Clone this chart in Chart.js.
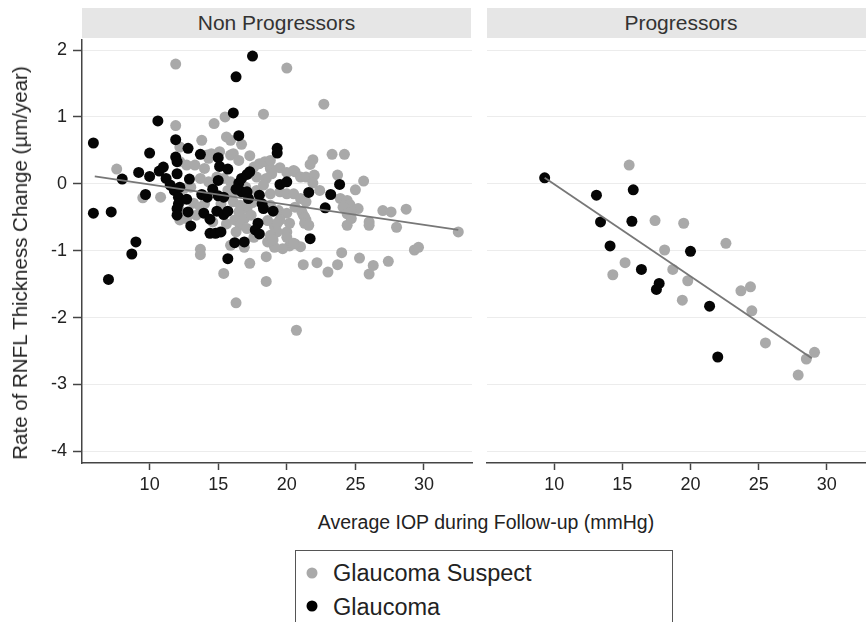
<!DOCTYPE html>
<html>
<head>
<meta charset="utf-8">
<script src="https://cdn.jsdelivr.net/npm/chart.js@4.4.1/dist/chart.umd.min.js"></script>
<style>
  html, body { margin: 0; padding: 0; width: 866px; height: 622px; overflow: hidden; background: #fff; }
  body { position: relative; font-family: 'Liberation Sans', Arial, sans-serif; color: #222; }
  .panel { position: absolute; top: 0; height: 500px; }
  .strip { position: absolute; top: 8px; height: 30px; line-height: 30px; background: #e6e6e6; text-align: center; font-size: 21px; color: #333; }
  .ytitle { position: absolute; left: 20px; top: 263px; transform: translate(-50%, -50%) rotate(-90deg); white-space: nowrap; font-size: 20.5px; }
  .xtitle { position: absolute; left: 486px; top: 522px; transform: translate(-50%, -50%); white-space: nowrap; font-size: 19.5px; }
  .legend { position: absolute; left: 295px; top: 550px; width: 376px; height: 100px; border: 1.5px solid #555; }
  .item { position: absolute; left: 37px; font-size: 23.5px; white-space: nowrap; transform: translateY(-50%); }
  .dot { position: absolute; width: 11px; height: 11px; border-radius: 50%; transform: translate(-50%, -50%); }
</style>
</head>
<body>

<div class="strip" style="left:82px; width:389px;">Non Progressors</div>
<div class="strip" style="left:487px; width:388px;">Progressors</div>

<div class="panel" style="left:0; width:480px;"><canvas id="chart-np" width="480" height="500"></canvas></div>
<div class="panel" style="left:480px; width:400px;"><canvas id="chart-p" width="400" height="500"></canvas></div>

<div class="ytitle">Rate of RNFL Thickness Change (µm/year)</div>
<div class="xtitle">Average IOP during Follow-up (mmHg)</div>

<div class="legend">
  <span class="dot" style="left:16px; top:22px; background:#a9a9a9;"></span>
  <span class="item" style="top:22px;">Glaucoma Suspect</span>
  <span class="dot" style="left:16px; top:55px; background:#000;"></span>
  <span class="item" style="top:56px;">Glaucoma</span>
</div>

<script>
// axes
const xTicks = [10, 15, 20, 25, 30];
const yTicks = [-4, -3, -2, -1, 0, 1, 2];
const xMin = 5.07, xMax = 33.5;
const yMin = -4.175, yMax = 2.15;

// Non Progressors - Glaucoma Suspect [IOP, rate]
const npSuspect = [
  [11.9, 1.79], [20.0, 1.73], [22.7, 1.19], [18.3, 1.04], [15.5, 1.0], [14.7, 0.90], [11.9, 0.87],
  [13.8, 0.65], [15.6, 0.70], [15.9, 0.65], [16.7, 0.59], [12.2, 0.55],
  [14.3, 0.38], [14.5, 0.45], [14.2, 0.43], [15.1, 0.48], [15.9, 0.43], [16.1, 0.45], [16.5, 0.35],
  [17.3, 0.42], [18.0, 0.30], [18.4, 0.33], [12.7, 0.28], [13.3, 0.28], [14.0, 0.23], [12.2, 0.33], [7.6, 0.22],
  [18.8, 0.23], [19.5, 0.24], [20.0, 0.17], [20.6, 0.18], [18.8, 0.35], [17.6, 0.25], [18.9, 0.15],
  [23.3, 0.44], [24.2, 0.44], [21.9, 0.36], [21.7, 0.29], [20.5, 0.20], [21.0, 0.10], [21.4, 0.10],
  [22.0, 0.13], [23.7, 0.13], [25.6, 0.04], [21.9, 0.01], [22.4, -0.10],
  [17.8, 0.10], [18.5, 0.08], [18.3, -0.02], [17.8, -0.10], [18.8, -0.15], [19.5, -0.12], [20.0, -0.15],
  [20.5, -0.15], [21.0, -0.22], [21.4, -0.27],
  [13.7, 0.08], [14.3, 0.03], [14.9, 0.10], [15.4, 0.08], [15.9, 0.03], [15.7, -0.10],
  [16.1, -0.27], [16.6, -0.32], [17.1, -0.37], [16.5, -0.42], [16.9, -0.52], [17.4, -0.47], [16.2, -0.54],
  [16.6, -0.62], [17.1, -0.67], [16.3, -0.72],
  [13.4, -0.47], [12.7, -0.52], [12.2, -0.40], [12.5, -0.07], [12.2, -0.27], [13.2, -0.29], [13.7, -0.35],
  [12.7, -0.44], [12.2, -0.54],
  [18.8, -0.32], [19.4, -0.40], [20.0, -0.44], [19.5, -0.54], [20.2, -0.59], [19.1, -0.64], [20.0, -0.72],
  [14.6, -0.57], [15.1, -0.72], [9.5, -0.21], [10.8, -0.20],
  [25.0, -0.09], [23.9, -0.22], [24.4, -0.25], [24.6, -0.31], [24.1, -0.35], [25.2, -0.37], [24.7, -0.42],
  [24.4, -0.45], [24.7, -0.52], [24.4, -0.62], [26.0, -0.57], [26.0, -0.62],
  [27.0, -0.40], [27.6, -0.42], [28.7, -0.38], [28.0, -0.65], [32.5, -0.72],
  [19.3, -0.59], [21.2, -0.47], [21.4, -0.54], [20.6, -0.35], [21.1, -0.42], [21.3, -0.50], [21.3, -0.59], [21.6, -0.62],
  [29.3, -0.99], [29.6, -0.95], [27.4, -1.16], [26.3, -1.22], [26.0, -1.35], [25.3, -1.11], [24.0, -1.03],
  [23.7, -1.21], [23.0, -1.32], [22.2, -1.18], [21.2, -1.21],
  [20.7, -2.19], [16.3, -1.78], [18.5, -1.46], [18.5, -1.09], [17.3, -1.19], [15.4, -1.34], [13.7, -0.98], [13.7, -1.06],
  [21.0, -0.94], [20.6, -0.90], [20.2, -0.93], [19.7, -0.97], [19.1, -0.95], [18.6, -0.87], [20.0, -0.80],
  [19.3, -0.72], [18.8, -0.77], [19.0, -0.84], [15.9, -0.92], [20.5, -0.89],
  [13.0, -0.05], [14.0, -0.30], [15.2, -0.30], [16.0, -0.15], [17.0, -0.05], [17.5, -0.28], [18.6, -0.55],
  [17.6, -0.80], [15.6, -0.60], [16.9, -0.95]
];

// Non Progressors - Glaucoma
const npGlaucoma = [
  [5.9, 0.61], [5.9, -0.44], [7.2, -0.42], [7.0, -1.43], [9.0, -0.87], [8.7, -1.05], [10.6, 0.94],
  [17.5, 1.91], [16.3, 1.60], [16.1, 1.06], [16.5, 0.72],
  [11.9, 0.66], [12.8, 0.53], [10.0, 0.46], [11.9, 0.40], [12.0, 0.33], [13.7, 0.44], [15.0, 0.39],
  [15.1, 0.26], [15.7, 0.22], [19.3, 0.53], [19.3, 0.46],
  [8.0, 0.07], [9.2, 0.17], [10.0, 0.11], [10.7, 0.19], [11.0, 0.25], [12.0, 0.15], [11.2, 0.08], [12.9, 0.07],
  [11.5, -0.02], [11.8, -0.10], [12.1, -0.20], [12.1, -0.30], [12.0, -0.37], [12.0, -0.47], [9.7, -0.16],
  [12.7, -0.23], [12.2, -0.05], [12.8, -0.42],
  [15.0, 0.05], [13.8, -0.16], [14.2, -0.20], [14.6, -0.08], [15.0, -0.18], [15.4, -0.20], [14.9, -0.41],
  [15.4, -0.46], [15.7, -0.41], [13.95, -0.44], [14.4, -0.53],
  [16.5, 0.01], [16.7, 0.08], [17.1, 0.14], [17.3, 0.18], [16.7, -0.12], [16.3, -0.08], [17.1, -0.12],
  [17.2, -0.22], [18.0, -0.17], [18.2, -0.30], [18.3, -0.37], [19.0, -0.41], [17.9, -0.59], [17.7, -0.69],
  [19.5, -0.01], [20.0, 0.03], [21.6, -0.13], [23.2, -0.16], [23.85, -0.01], [22.8, -0.36], [13.0, -0.63],
  [14.4, -0.74], [14.8, -0.74], [15.2, -0.72], [16.2, -0.88], [16.9, -0.87], [15.7, -1.12], [18.0, -0.75], [21.7, -0.82]
];

// Progressors
const pSuspect = [
  [15.5, 0.28], [17.4, -0.55], [19.5, -0.59], [22.6, -0.89], [18.1, -0.99], [15.2, -1.18], [14.3, -1.36],
  [18.7, -1.28], [19.8, -1.45], [19.4, -1.74], [23.7, -1.60], [24.4, -1.54], [24.5, -1.90], [25.5, -2.38],
  [28.5, -2.62], [29.1, -2.52], [27.9, -2.86]
];
const pGlaucoma = [
  [9.3, 0.09], [15.8, -0.09], [13.1, -0.17], [13.4, -0.57], [15.7, -0.56], [14.1, -0.93], [20.0, -1.01],
  [16.4, -1.28], [17.7, -1.49], [17.5, -1.58], [21.4, -1.83], [22.0, -2.59]
];

// fitted lines (start, end)
const npFit = [[6.0, 0.11], [32.5, -0.69]];
const pFit = [[9.3, 0.09], [28.9, -2.61]];

const FONT = "'Liberation Sans', Arial, sans-serif";
const toXY = arr => arr.map(p => ({ x: p[0], y: p[1] }));

function makePanel(id, suspect, glaucoma, fit, showY) {
  const ctx = document.getElementById(id).getContext('2d');
  return new Chart(ctx, {
    type: 'scatter',
    data: {
      datasets: [
        { label: 'fit', data: toXY(fit), showLine: true, borderColor: '#777', borderWidth: 1.8, pointRadius: 0, order: 0 },
        { label: 'Glaucoma', data: toXY(glaucoma), backgroundColor: '#050505', borderWidth: 0, pointRadius: 5.5, order: 1 },
        { label: 'Glaucoma Suspect', data: toXY(suspect), backgroundColor: '#a9a9a9', borderWidth: 0, pointRadius: 5.5, order: 2 }
      ]
    },
    options: {
      responsive: false,
      animation: false,
      layout: { padding: { top: 40, left: showY ? 0 : 7, right: showY ? 8 : 3, bottom: 0 } },
      plugins: { legend: { display: false }, tooltip: { enabled: false } },
      scales: {
        x: {
          type: 'linear', min: xMin, max: xMax,
          afterBuildTicks: s => { s.ticks = xTicks.map(v => ({ value: v })); },
          afterFit: s => { s.height = 37; },
          grid: { drawOnChartArea: false, drawTicks: true, tickLength: 7, tickColor: '#444', tickWidth: 1.5 },
          border: { display: true, color: '#444', width: 1.5 },
          ticks: { font: { size: 18, family: FONT }, color: '#222', padding: 4 }
        },
        y: {
          type: 'linear', min: yMin, max: yMax,
          afterBuildTicks: s => { s.ticks = yTicks.map(v => ({ value: v })); },
          afterFit: s => { s.width = showY ? 82 : 0; },
          grid: { color: '#ececec', lineWidth: 1, drawTicks: showY, tickLength: 9, tickColor: '#444', tickWidth: 1.5 },
          border: { display: showY, color: '#444', width: 1.5 },
          ticks: { display: showY, font: { size: 18, family: FONT }, color: '#222', padding: 6 }
        }
      }
    }
  });
}

makePanel('chart-np', npSuspect, npGlaucoma, npFit, true);
makePanel('chart-p', pSuspect, pGlaucoma, pFit, false);
</script>
</body>
</html>
